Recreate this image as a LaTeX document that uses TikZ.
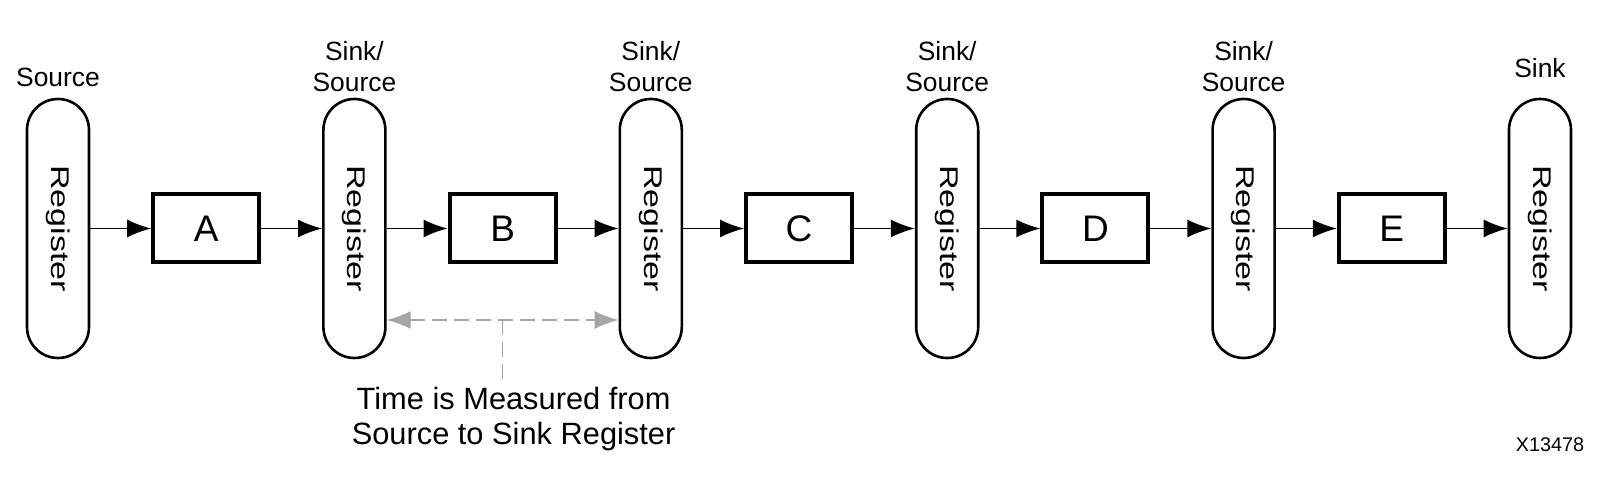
\documentclass[tikz,border=0pt]{standalone}
\usepackage{fontspec}
\setmainfont{Liberation Sans}
\usetikzlibrary{arrows.meta, positioning}
\definecolor{measgray}{HTML}{A6A6A6}
\newcommand{\regtext}{\rotatebox{-90}{\scalebox{1.33}[1]{Register}}}

\begin{document}
\begin{tikzpicture}[>={Latex[length=12pt, width=9pt]}, node distance=74.1pt, font=\fontsize{12.8}{15}\selectfont,
  reg/.style={draw, line width=1.3pt, rounded corners=15.5pt, minimum width=31pt, minimum height=129.5pt, inner sep=0pt},
  blk/.style={draw, line width=2pt, minimum width=53pt, minimum height=34pt, inner sep=0pt, font=\fontsize{18.5}{20}\selectfont},
  lbl/.style={align=center, inner sep=0pt, font=\fontsize{13.2}{15.5}\selectfont},
  wire/.style={->, line width=0.8pt},
  meas/.style={draw=measgray, dash pattern=on 7.5pt off 3.5pt, line width=0.75pt}]
\useasboundingbox (0,0) rectangle (801.5pt,-245.5pt);

\node[reg] (r1) at (29pt,-114.25pt) {\regtext};
\node[blk, right of=r1] (a) {A};
\node[reg, right of=a] (r2) {\regtext};
\node[blk, right of=r2] (b) {B};
\node[reg, right of=b] (r3) {\regtext};
\node[blk, right of=r3] (c) {C};
\node[reg, right of=c] (r4) {\regtext};
\node[blk, right of=r4] (d) {D};
\node[reg, right of=d] (r5) {\regtext};
\node[blk, right of=r5] (e) {E};
\node[reg, right of=e] (r6) {\regtext};

\node[lbl, above=5.5pt of r1] (src) {Source};
\node[lbl, above=3pt of r2] (ss2) {Sink/\\Source};
\node[lbl, above=3pt of r3] (ss3) {Sink/\\Source};
\node[lbl, above=3pt of r4] (ss4) {Sink/\\Source};
\node[lbl, above=3pt of r5] (ss5) {Sink/\\Source};
\node[lbl, above=10pt of r6] (snk) {Sink};

\draw[wire] (r1.east) -- (a.west);
\draw[wire] (a.east) -- (r2.west);
\draw[wire] (r2.east) -- (b.west);
\draw[wire] (b.east) -- (r3.west);
\draw[wire] (r3.east) -- (c.west);
\draw[wire] (c.east) -- (r4.west);
\draw[wire] (r4.east) -- (d.west);
\draw[wire] (d.east) -- (r5.west);
\draw[wire] (r5.east) -- (e.west);
\draw[wire] (e.east) -- (r6.west);

% timing measurement
\draw[meas, <->] ([yshift=-45.75pt] r2.east) -- ([yshift=-45.75pt] r3.west) coordinate[pos=0.5] (m);
\draw[meas] (m) -- ++(0,-29.5pt) coordinate (mstem);
\node[lbl, below=4pt of mstem, xshift=5.5pt, font=\fontsize{15.4}{17.5}\selectfont] (note) {Time is Measured from\\Source to Sink Register};

\node[font=\fontsize{9.9}{11}\selectfont] (fig) at (775pt,-222.5pt) {X13478};
\end{tikzpicture}
\end{document}
